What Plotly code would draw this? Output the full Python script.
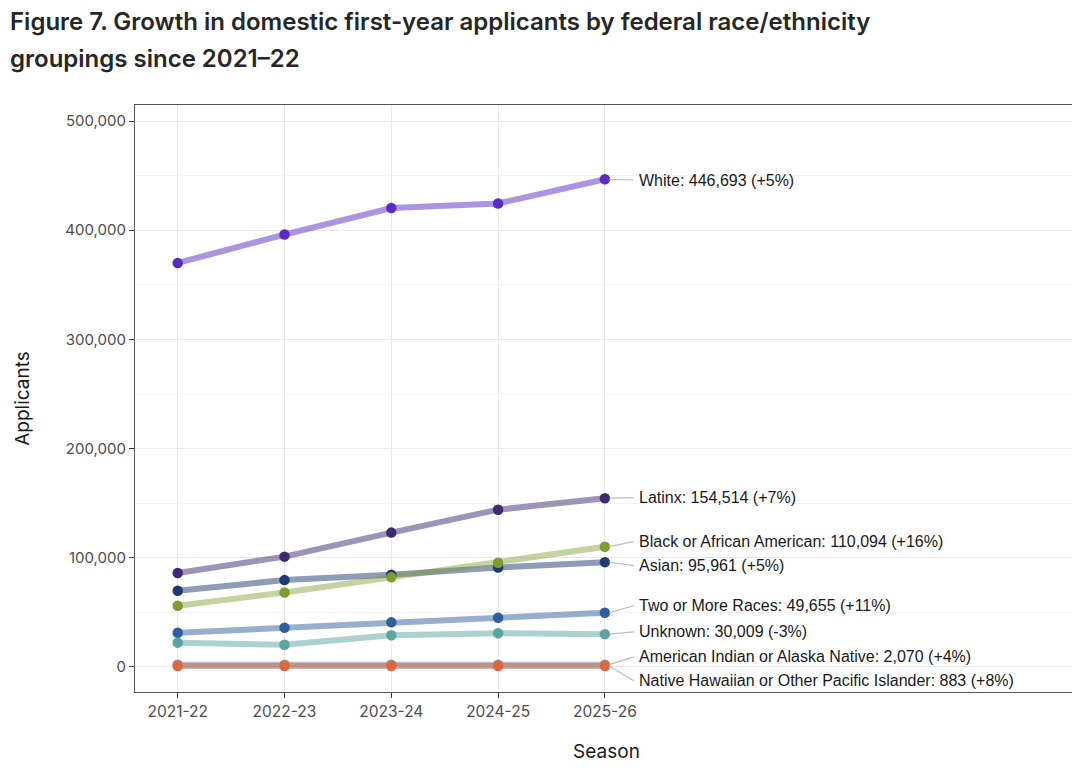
import plotly.graph_objects as go

seasons = ["2021-22", "2022-23", "2023-24", "2024-25", "2025-26"]

groups = ["White", "Latinx", "Asian", "Black or African American", "Two or More Races",
          "Unknown", "American Indian or Alaska Native", "Native Hawaiian or Other Pacific Islander"]

white = [370000, 396000, 420300, 424500, 446693]
latinx = [86000, 101000, 123000, 144000, 154514]
asian = [69800, 79500, 84500, 91000, 95961]
black = [56000, 68200, 82000, 95400, 110094]
two_more = [31200, 35800, 40800, 45000, 49655]
unknown = [22200, 20300, 29000, 30800, 30009]
aian = [1990, 2000, 2050, 2060, 2070]
nhpi = [818, 830, 850, 860, 883]

pct_change = ["+5%", "+7%", "+5%", "+16%", "+11%", "-3%", "+4%", "+8%"]

y_ticks = [0, 100000, 200000, 300000, 400000, 500000]

title_lines = ["Figure 7. Growth in domestic first-year applicants by federal race/ethnicity",
               "groupings since 2021\u201322"]

series = [white, latinx, asian, black, two_more, unknown, aian, nhpi]

# style / layout (not data)
marker_colors = ["#5a2bc2", "#3e2a6e", "#1e3a72", "#7e9c2f", "#2f5e9e", "#5aa5a1", "#9a8f8c", "#e0663f"]
line_colors = ["rgba(90,43,194,0.5)", "rgba(62,42,110,0.5)", "rgba(30,58,114,0.5)",
               "rgba(126,156,47,0.45)", "rgba(47,94,158,0.5)", "rgba(90,165,161,0.5)",
               "rgba(120,150,170,0.6)", "rgba(200,110,85,0.55)"]
label_y = [446000, 155000, 92700, 114700, 56000, 32100, 9200, -12800]

W, H = 1072, 760
ML, MR, MT, MB = 127, 2, 97, 76
plot_w = W - ML - MR
plot_h = H - MT - MB

fig = go.Figure()
xs = list(range(len(seasons)))

for i, (g, vals) in enumerate(zip(groups, series)):
    fig.add_trace(go.Scatter(
        x=xs, y=vals, mode="lines",
        line=dict(color=line_colors[i], width=6),
        hoverinfo="skip", showlegend=False))
for i, (g, vals) in enumerate(zip(groups, series)):
    fig.add_trace(go.Scatter(
        x=xs, y=vals, mode="markers",
        marker=dict(color=marker_colors[i], size=10.5),
        name=g, showlegend=False))

label_x = 4.3
for i, (g, vals) in enumerate(zip(groups, series)):
    fig.add_trace(go.Scatter(
        x=[xs[-1] + 0.04, label_x - 0.03], y=[vals[-1], label_y[i]], mode="lines",
        line=dict(color="#bdbdbd", width=1.2), hoverinfo="skip", showlegend=False))
    fig.add_annotation(
        x=label_x, y=label_y[i], xref="x", yref="y",
        text=f"{g}: {vals[-1]:,} ({pct_change[i]})",
        showarrow=False, xanchor="left", yanchor="middle",
        font=dict(family="Liberation Sans, Arial", size=16, color="#1a1a1a"))

# title lines (two annotations to control line spacing)
for k, (line, ypx) in enumerate(zip(title_lines, [13, 50])):
    fig.add_annotation(
        x=-ML / plot_w, y=(H - MB - ypx) / plot_h, xref="paper", yref="paper",
        text=line, showarrow=False, xanchor="left", yanchor="middle",
        font=dict(family="Inter", size=24, color="#262626", weight=600))

fig.update_layout(
    width=W, height=H,
    paper_bgcolor="white", plot_bgcolor="white",
    margin=dict(l=ML, r=MR, t=MT, b=MB, autoexpand=False),
    font=dict(family="Inter", color="#4d4d4d"),
)

fig.update_xaxes(
    range=[-0.4, 8.43], tickmode="array", tickvals=xs, ticktext=seasons,
    showgrid=True, gridcolor="#e9e9e9", gridwidth=1.3,
    showline=True, linecolor="#555555", mirror=True, linewidth=1.2,
    ticks="outside", ticklen=5, tickcolor="#333333",
    tickfont=dict(family="Inter", size=15.5, color="#4d4d4d"),
    title=dict(text="Season", font=dict(family="Inter", size=19, color="#1a1a1a"), standoff=24),
    zeroline=False)
fig.update_yaxes(
    range=[-23000, 514700], tickmode="array", tickvals=y_ticks,
    tickformat=",d",
    showgrid=True, gridcolor="#e9e9e9", gridwidth=1.3,
    minor=dict(dtick=50000, tick0=0, showgrid=True, gridcolor="#f2f2f2", gridwidth=1),
    showline=True, linecolor="#555555", mirror=True, linewidth=1.2,
    ticks="outside", ticklen=5, tickcolor="#333333",
    tickfont=dict(family="Inter", size=15, color="#4d4d4d"),
    title=dict(text="Applicants", font=dict(family="Inter", size=19, color="#1a1a1a"), standoff=30),
    zeroline=False)

fig.write_html("out.html")
